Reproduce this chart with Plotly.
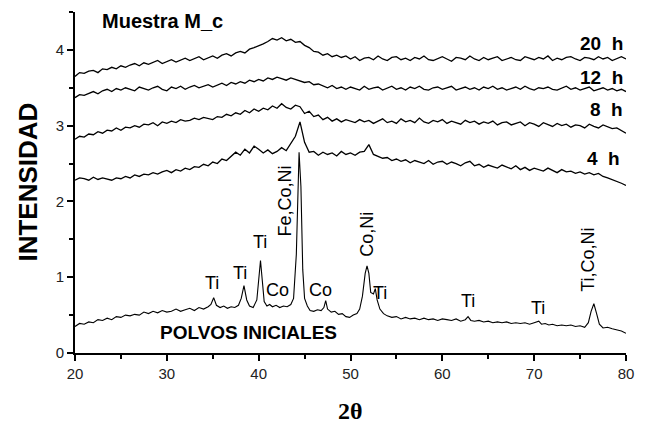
import plotly.graph_objects as go

# ---------------- data ----------------
x_scan = [20 + 0.5 * i for i in range(121)]  # 20.0 .. 80.0 in 0.5 steps (scan grid)

x_polvos = [20.0, 20.5, 21.0, 21.5, 22.0, 22.5, 23.0, 23.5, 24.0, 24.5, 25.0, 25.5, 26.0, 26.5, 27.0, 27.5,
            28.0, 28.5, 29.0, 29.5, 30.0, 30.5, 31.0, 31.5, 32.0, 32.5, 33.0, 33.5, 34.0, 34.5, 34.8, 35.1,
            35.4, 35.8, 36.2, 36.6, 37.0, 37.4, 37.8, 38.1, 38.4, 38.7, 39.0, 39.4, 39.8, 40.0, 40.2, 40.4,
            40.6, 40.9, 41.2, 41.5, 41.9, 42.3, 42.7, 43.1, 43.5, 43.8, 44.1, 44.4, 44.6, 44.8, 45.0, 45.3,
            45.6, 46.0, 46.4, 46.8, 47.1, 47.3, 47.5, 47.9, 48.3, 48.7, 49.1, 49.5, 49.9, 50.3, 50.7, 51.0,
            51.3, 51.6, 51.8, 52.0, 52.2, 52.5, 52.7, 52.9, 53.2, 53.6, 54.0, 54.5, 55.0, 55.5, 56.0, 56.5,
            57.0, 57.5, 58.0, 58.5, 59.0, 59.5, 60.0, 60.5, 61.0, 61.5, 62.0, 62.5, 62.8, 63.1, 63.5, 64.0,
            64.5, 65.0, 65.5, 66.0, 66.5, 67.0, 67.5, 68.0, 68.5, 69.0, 69.5, 70.0, 70.5, 70.8, 71.2, 71.6,
            72.0, 72.5, 73.0, 73.5, 74.0, 74.5, 75.0, 75.5, 75.9, 76.2, 76.5, 76.8, 77.1, 77.5, 78.0, 78.5,
            79.0, 79.5, 80.0]
y_polvos = [0.35, 0.39, 0.38, 0.41, 0.40, 0.44, 0.43, 0.46, 0.44, 0.48, 0.47, 0.50, 0.49, 0.51, 0.50, 0.54,
            0.52, 0.55, 0.53, 0.56, 0.54, 0.55, 0.58, 0.55, 0.57, 0.59, 0.56, 0.60, 0.58, 0.61, 0.64, 0.73,
            0.63, 0.60, 0.62, 0.59, 0.61, 0.60, 0.63, 0.72, 0.89, 0.70, 0.62, 0.60, 0.70, 0.95, 1.22, 0.95,
            0.68, 0.62, 0.64, 0.61, 0.63, 0.60, 0.62, 0.61, 0.64, 0.72, 1.30, 2.65, 2.20, 1.10, 0.72, 0.62,
            0.56, 0.55, 0.57, 0.56, 0.60, 0.69, 0.58, 0.54, 0.55, 0.51, 0.52, 0.48, 0.47, 0.50, 0.52, 0.58,
            0.75, 1.05, 1.15, 1.05, 0.80, 0.78, 0.85, 0.70, 0.58, 0.52, 0.49, 0.47, 0.48, 0.45, 0.47, 0.45,
            0.46, 0.44, 0.46, 0.44, 0.45, 0.43, 0.45, 0.44, 0.43, 0.45, 0.42, 0.44, 0.48, 0.43, 0.42, 0.43,
            0.41, 0.42, 0.40, 0.41, 0.40, 0.41, 0.39, 0.40, 0.39, 0.40, 0.38, 0.40, 0.42, 0.38, 0.39, 0.37,
            0.38, 0.36, 0.37, 0.36, 0.37, 0.35, 0.36, 0.34, 0.40, 0.55, 0.65, 0.52, 0.38, 0.33, 0.34, 0.32,
            0.31, 0.29, 0.26]

y_4h = [2.28, 2.31, 2.30, 2.28, 2.32, 2.29, 2.31, 2.30, 2.28, 2.31,
        2.30, 2.33, 2.31, 2.35, 2.33, 2.36, 2.35, 2.38, 2.36, 2.39,
        2.41, 2.38, 2.42, 2.40, 2.44, 2.42, 2.46, 2.45, 2.49, 2.47,
        2.52, 2.50, 2.56, 2.54, 2.60, 2.65, 2.61, 2.69, 2.64, 2.73,
        2.69, 2.64, 2.68, 2.63, 2.66, 2.71, 2.67, 2.77, 2.86, 3.05,
        2.78, 2.65, 2.66, 2.61, 2.65, 2.62, 2.64, 2.60, 2.66, 2.62,
        2.64, 2.61, 2.65, 2.66, 2.75, 2.62, 2.60, 2.57, 2.58, 2.54,
        2.56, 2.53, 2.55, 2.51, 2.54, 2.52, 2.50, 2.54, 2.49, 2.52,
        2.53, 2.49, 2.52, 2.50, 2.47, 2.51, 2.53, 2.47, 2.49, 2.45,
        2.48, 2.46, 2.44, 2.48, 2.45, 2.43, 2.47, 2.42, 2.45, 2.41,
        2.44, 2.42, 2.40, 2.44, 2.41, 2.38, 2.42, 2.39, 2.40, 2.37,
        2.39, 2.36, 2.38, 2.35, 2.37, 2.33, 2.31, 2.29, 2.27, 2.24,
        2.21]

y_8h = [2.82, 2.86, 2.85, 2.89, 2.88, 2.92, 2.90, 2.94, 2.93, 2.97,
        2.94, 2.98, 2.97, 3.00, 2.98, 3.02, 3.01, 3.04, 3.00, 3.05,
        3.03, 3.06, 3.04, 3.08, 3.06, 3.07, 3.10, 3.08, 3.11, 3.09,
        3.08, 3.12, 3.11, 3.15, 3.13, 3.17, 3.15, 3.20, 3.17, 3.22,
        3.19, 3.23, 3.21, 3.26, 3.23, 3.29, 3.24, 3.22, 3.27, 3.25,
        3.16, 3.19, 3.12, 3.14, 3.08, 3.11, 3.06, 3.09, 3.05, 3.08,
        3.06, 3.04, 3.08, 3.05, 3.07, 3.03, 3.06, 3.09, 3.04, 3.06,
        3.03, 3.09, 3.05, 3.07, 3.04, 3.10, 3.05, 3.03, 3.07, 3.05,
        3.08, 3.03, 3.06, 3.04, 3.02, 3.07, 3.04, 3.06, 3.02, 3.05,
        3.03, 3.06, 3.01, 3.04, 3.05, 3.01, 3.03, 3.05, 3.00, 3.04,
        3.02, 2.99, 3.04, 3.01, 2.99, 3.03, 3.00, 3.02, 2.98, 3.01,
        3.00, 2.97, 3.02, 2.99, 2.97, 3.01, 2.98, 2.96, 2.97, 2.94,
        2.90]

y_12h = [3.37, 3.41, 3.40, 3.43, 3.45, 3.42, 3.46, 3.48, 3.45, 3.49,
         3.47, 3.50, 3.48, 3.46, 3.51, 3.49, 3.47, 3.50, 3.52, 3.48,
         3.46, 3.51, 3.49, 3.52, 3.48, 3.51, 3.53, 3.50, 3.52, 3.54,
         3.51, 3.54, 3.56, 3.53, 3.57, 3.55, 3.58, 3.56, 3.60, 3.58,
         3.61, 3.59, 3.63, 3.61, 3.64, 3.62, 3.60, 3.63, 3.61, 3.59,
         3.57, 3.58, 3.54, 3.55, 3.52, 3.50, 3.53, 3.49, 3.51, 3.48,
         3.51, 3.49, 3.47, 3.52, 3.48, 3.50, 3.51, 3.47, 3.49, 3.52,
         3.48, 3.50, 3.47, 3.51, 3.49, 3.52, 3.48, 3.47, 3.50, 3.51,
         3.48, 3.50, 3.52, 3.47, 3.49, 3.51, 3.48, 3.50, 3.47, 3.51,
         3.49, 3.52, 3.48, 3.50, 3.47, 3.49, 3.51, 3.48, 3.52, 3.49,
         3.47, 3.50, 3.49, 3.51, 3.48, 3.47, 3.50, 3.52, 3.48, 3.50,
         3.47, 3.49, 3.51, 3.46, 3.48, 3.50, 3.47, 3.49, 3.46, 3.48,
         3.45]

y_20h = [3.65, 3.70, 3.69, 3.72, 3.73, 3.70, 3.75, 3.74, 3.77, 3.75,
         3.79, 3.77, 3.80, 3.82, 3.79, 3.83, 3.81, 3.84, 3.86, 3.82,
         3.85, 3.87, 3.84, 3.86, 3.89, 3.86, 3.88, 3.91, 3.87, 3.90,
         3.92, 3.89, 3.93, 3.95, 3.92, 3.96, 3.98, 3.96, 4.01, 4.03,
         4.05, 4.08, 4.11, 4.15, 4.13, 4.16, 4.12, 4.14, 4.10, 4.11,
         4.06, 4.03, 3.98, 3.97, 3.93, 3.95, 3.91, 3.93, 3.90, 3.92,
         3.88, 3.91, 3.86, 3.89, 3.90, 3.87, 3.92, 3.88, 3.86, 3.90,
         3.91, 3.87, 3.89, 3.86, 3.90, 3.88, 3.92, 3.87, 3.86, 3.89,
         3.91, 3.88, 3.85, 3.90, 3.89, 3.87, 3.92, 3.88, 3.86, 3.90,
         3.87, 3.89, 3.91, 3.86, 3.88, 3.90, 3.87, 3.86, 3.91, 3.89,
         3.87, 3.90, 3.88, 3.92, 3.86, 3.89, 3.87, 3.90, 3.91, 3.88,
         3.86, 3.90, 3.89, 3.87, 3.91, 3.88, 3.90, 3.86, 3.89, 3.91,
         3.88]

x_ticks = [20, 30, 40, 50, 60, 70, 80]
y_ticks = [0, 1, 2, 3, 4]

# curve labels (text, x, y)
curve_labels = [("20 h", 79.9, 4.09), ("12 h", 79.9, 3.64), ("8 h", 79.9, 3.21), ("4 h", 79.6, 2.57)]
# horizontal peak labels
peak_labels = [("Ti", 34.9, 0.93), ("Ti", 37.97, 1.06), ("Ti", 40.15, 1.46), ("Co", 42.0, 0.83),
               ("Co", 46.7, 0.83), ("Ti", 53.2, 0.79), ("Ti", 62.8, 0.68), ("Ti", 70.4, 0.60)]
# vertical peak labels
peak_labels_v = [("Fe,Co,Ni", 42.85, 2.01), ("Co,Ni", 51.8, 1.56), ("Ti,Co,Ni", 75.86, 1.23)]

# ---------------- figure ----------------
fig = go.Figure()
fig.add_trace(go.Scatter(x=x_polvos, y=y_polvos, mode="lines", line=dict(color="black", width=1.1)))
for ys in (y_4h, y_8h, y_12h, y_20h):
    fig.add_trace(go.Scatter(x=x_scan, y=ys, mode="lines", line=dict(color="black", width=1.3)))

ann = []
ann.append(dict(x=22.7, y=4.38, text="<b>Muestra M_c</b>", xanchor="left", yanchor="middle",
                font=dict(family="Arial", size=20, color="black")))
ann.append(dict(x=29.0, y=0.265, text="<b>POLVOS INICIALES</b>", xanchor="left", yanchor="middle",
                font=dict(family="Arial", size=19, color="black")))
for t, x, y in curve_labels:
    ann.append(dict(x=x, y=y, text="<b>%s</b>" % t.replace(" ", "&nbsp;&nbsp;"), xanchor="right",
                    yanchor="middle", font=dict(family="Liberation Sans Narrow, Arial", size=19, color="black")))
for t, x, y in peak_labels:
    ann.append(dict(x=x, y=y, text=t, xanchor="center", yanchor="middle",
                    font=dict(family="Arial", size=18, color="black")))
for t, x, y in peak_labels_v:
    ann.append(dict(x=x, y=y, text=t, textangle=-90, xanchor="center", yanchor="middle",
                    font=dict(family="Arial", size=18, color="black")))
ann.append(dict(x=-0.087, y=0.5, xref="paper", yref="paper", text="<b>INTENSIDAD</b>", textangle=-90,
                xanchor="center", yanchor="middle", font=dict(family="Arial", size=26, color="black")))
ann.append(dict(x=0.5, y=-0.17, xref="paper", yref="paper", text="<b>2θ</b>",
                xanchor="center", yanchor="middle", font=dict(family="Liberation Serif", size=24, color="black")))
for a in ann:
    a["showarrow"] = False
fig.update_layout(annotations=ann)

# page body has an 8px default margin, so the figure is 8px smaller than the window
fig.update_layout(
    width=638, height=417,
    margin=dict(l=67, r=20, t=4, b=72),
    paper_bgcolor="white", plot_bgcolor="white",
    showlegend=False,
    xaxis=dict(range=[20, 80], tickvals=x_ticks, showgrid=False, zeroline=False,
               showline=True, linecolor="black", linewidth=2,
               ticks="outside", ticklen=6, tickwidth=2, tickcolor="black",
               minor=dict(dtick=5, ticklen=4, tickwidth=2, tickcolor="black", ticks="outside"),
               tickfont=dict(family="Arial", size=15, color="#222")),
    yaxis=dict(range=[0, 4.5], tickvals=y_ticks, showgrid=False, zeroline=False,
               showline=True, linecolor="black", linewidth=2,
               ticks="outside", ticklen=6, tickwidth=2, tickcolor="black",
               minor=dict(dtick=0.5, ticklen=4, tickwidth=2, tickcolor="black", ticks="outside"),
               tickfont=dict(family="Arial", size=15, color="#222")),
)

fig.write_html("out.html")
